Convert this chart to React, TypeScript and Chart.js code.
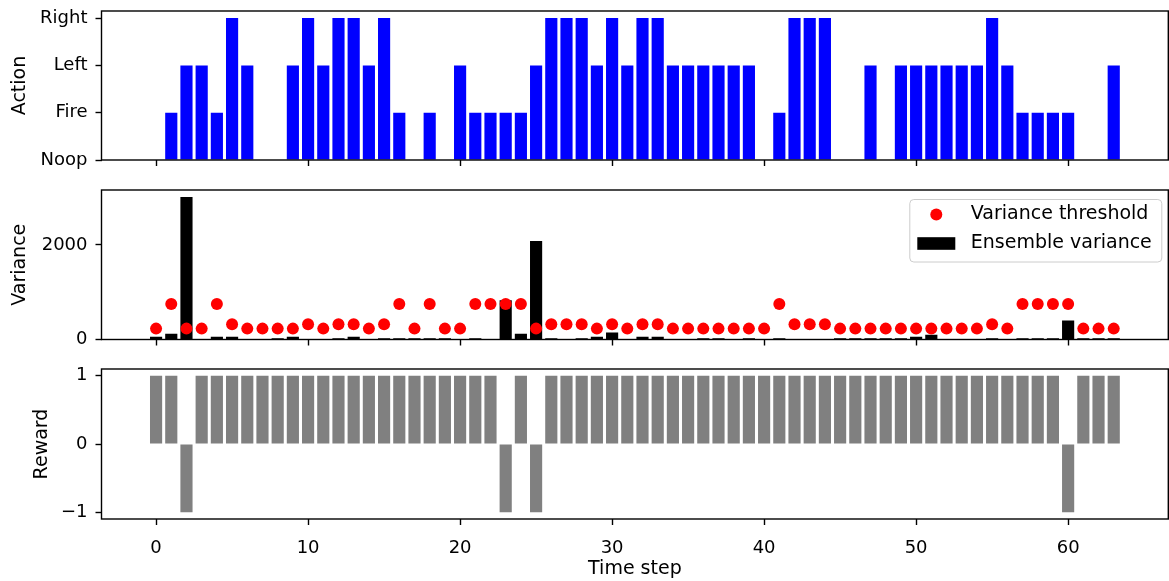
import React, { useEffect, useRef } from 'react';
import { Chart, registerables } from 'chart.js';

Chart.register(...registerables);

// ---------------- data ----------------
const timeSteps = [
  0, 1, 2, 3, 4, 5, 6, 7, 8, 9,
  10, 11, 12, 13, 14, 15, 16, 17, 18, 19,
  20, 21, 22, 23, 24, 25, 26, 27, 28, 29,
  30, 31, 32, 33, 34, 35, 36, 37, 38, 39,
  40, 41, 42, 43, 44, 45, 46, 47, 48, 49,
  50, 51, 52, 53, 54, 55, 56, 57, 58, 59,
  60, 61, 62, 63,
];

const actionLabels = ['Noop', 'Fire', 'Left', 'Right'];

// index into actionLabels
const actions = [
  0, 1, 2, 2, 1, 3, 2, 0, 0, 2,
  3, 2, 3, 3, 2, 3, 1, 0, 1, 0,
  2, 1, 1, 1, 1, 2, 3, 3, 3, 2,
  3, 2, 3, 3, 2, 2, 2, 2, 2, 2,
  0, 1, 3, 3, 3, 0, 0, 2, 0, 2,
  2, 2, 2, 2, 2, 3, 2, 1, 1, 1,
  1, 0, 0, 2,
];

const varianceThreshold = [
  230, 750, 230, 230, 750, 320, 230, 230, 230, 230,
  320, 230, 320, 320, 230, 320, 750, 230, 750, 230,
  230, 750, 750, 750, 750, 230, 320, 320, 320, 230,
  320, 230, 320, 320, 230, 230, 230, 230, 230, 230,
  230, 750, 320, 320, 320, 230, 230, 230, 230, 230,
  230, 230, 230, 230, 230, 320, 230, 750, 750, 750,
  750, 230, 230, 230,
];

const ensembleVariance = [
  60, 120, 3010, 0, 60, 60, 0, 0, 25, 60,
  0, 0, 25, 60, 0, 25, 25, 25, 25, 25,
  0, 25, 0, 830, 120, 2080, 25, 0, 25, 60,
  150, 0, 60, 60, 0, 0, 25, 25, 0, 25,
  0, 25, 0, 0, 0, 25, 25, 25, 25, 25,
  60, 100, 0, 0, 0, 25, 0, 25, 25, 25,
  400, 25, 25, 25,
];

const rewards = [
  1, 1, -1, 1, 1, 1, 1, 1, 1, 1,
  1, 1, 1, 1, 1, 1, 1, 1, 1, 1,
  1, 1, 1, -1, 1, -1, 1, 1, 1, 1,
  1, 1, 1, 1, 1, 1, 1, 1, 1, 1,
  1, 1, 1, 1, 1, 1, 1, 1, 1, 1,
  1, 1, 1, 1, 1, 1, 1, 1, 1, 1,
  -1, 1, 1, 1,
];

const xTickValues = [0, 10, 20, 30, 40, 50, 60];
const actionTickValues = [0, 1, 2, 3];
const varianceTickValues = [0, 2000];
const rewardTickValues = [-1, 0, 1];

const xTitle = 'Time step';
const thresholdLabel = 'Variance threshold';
const varianceLabel = 'Ensemble variance';

// ---------------- layout ----------------
const W = 1169;
const H = 581;
const PLOT_LEFT = 101.5;
const PLOT_RIGHT = 1168.3;
const FONT = 'DejaVu Sans';
const FS = 18;
const TITLE_FS = 19;
const TITLE_LH = TITLE_FS * 1.2;

Chart.defaults.font.family = FONT;
Chart.defaults.font.size = FS;
Chart.defaults.color = '#000';

const barWidthFrac = 0.8;
const xPad = 0.05 * (timeSteps[timeSteps.length - 1] - timeSteps[0] + barWidthFrac);
const X_MIN = timeSteps[0] - barWidthFrac / 2 - xPad;
const X_MAX = timeSteps[timeSteps.length - 1] + barWidthFrac / 2 + xPad;

const zeroPadding = (s: any) => {
  s.paddingTop = 0;
  s.paddingBottom = 0;
  s.paddingLeft = 0;
  s.paddingRight = 0;
};

const framePlugin = {
  id: 'frame',
  afterDatasetsDraw(chart: any) {
    const { ctx, chartArea: a } = chart;
    ctx.save();
    ctx.strokeStyle = '#000';
    ctx.lineWidth = 1.4;
    ctx.strokeRect(a.left, a.top, a.right - a.left, a.bottom - a.top);
    ctx.restore();
  },
};

const legendPlugin = {
  id: 'varLegend',
  afterDraw(chart: any) {
    const { ctx, chartArea: a } = chart;
    const boxW = 252;
    const boxH = 62.5;
    const right = a.right - 6.5;
    const top = a.top + 9.5;
    const left = right - boxW;
    ctx.save();
    ctx.beginPath();
    ctx.roundRect(left, top, boxW, boxH, 4);
    ctx.fillStyle = 'rgba(255,255,255,0.8)';
    ctx.fill();
    ctx.strokeStyle = '#cccccc';
    ctx.lineWidth = 1;
    ctx.stroke();

    const row1 = top + 15;
    const row2 = top + 44;
    const handleLeft = left + 7.5;
    const handleLen = 38;
    // scatter marker
    ctx.beginPath();
    ctx.arc(handleLeft + handleLen / 2, row1, 6, 0, Math.PI * 2);
    ctx.fillStyle = '#ff0000';
    ctx.fill();
    // bar patch
    ctx.fillStyle = '#000000';
    ctx.fillRect(handleLeft, row2 - 6.3, handleLen, 12.6);

    ctx.fillStyle = '#000';
    ctx.font = `${TITLE_FS}px "${FONT}"`;
    ctx.textBaseline = 'middle';
    ctx.textAlign = 'left';
    const textX = left + 61;
    ctx.fillText(thresholdLabel, textX, row1);
    ctx.fillText(varianceLabel, textX, row2);
    ctx.restore();
  },
};

type PanelOpts = {
  top: number;
  bottom: number;
  titleX: number;
  yTitle: string;
  yMin: number;
  yMax: number;
  yTicks: number[];
  yLabel: (v: number) => string;
  showX: boolean;
};

function makeOptions(p: PanelOpts): any {
  const padLeft = p.titleX - TITLE_LH / 2;
  const xHeight = p.showX ? H - p.bottom : 10;
  const padBottom = p.showX ? 0 : H - p.bottom - xHeight;
  return {
    responsive: false,
    animation: false,
    events: [],
    layout: {
      autoPadding: false,
      padding: { left: padLeft, top: p.top, right: W - PLOT_RIGHT, bottom: padBottom },
    },
    plugins: { legend: { display: false }, tooltip: { enabled: false } },
    scales: {
      x: {
        type: 'linear',
        min: X_MIN,
        max: X_MAX,
        offset: false,
        afterFit: (s: any) => {
          s.height = xHeight;
          zeroPadding(s);
        },
        afterBuildTicks: (s: any) => {
          s.ticks = xTickValues.map((v) => ({ value: v }));
        },
        grid: {
          display: true,
          drawOnChartArea: false,
          drawTicks: true,
          tickLength: 6,
          tickWidth: 1.4,
          tickColor: '#000',
          offset: false,
        },
        border: { display: false },
        ticks: {
          display: p.showX,
          padding: 13,
          autoSkip: false,
          maxRotation: 0,
          color: '#000',
          callback: (v: any) => String(v),
        },
        title: {
          display: p.showX,
          text: xTitle,
          color: '#000',
          font: { size: TITLE_FS },
          padding: { top: 0, bottom: 1 },
        },
      },
      y: {
        type: 'linear',
        min: p.yMin,
        max: p.yMax,
        afterFit: (s: any) => {
          s.width = PLOT_LEFT - padLeft;
          zeroPadding(s);
        },
        afterBuildTicks: (s: any) => {
          s.ticks = p.yTicks.map((v) => ({ value: v }));
        },
        grid: {
          display: true,
          drawOnChartArea: false,
          drawTicks: true,
          tickLength: 6,
          tickWidth: 1.4,
          tickColor: '#000',
        },
        border: { display: false },
        ticks: {
          padding: 8,
          autoSkip: false,
          color: '#000',
          callback: (v: any) => p.yLabel(Number(v)),
        },
        title: {
          display: true,
          text: p.yTitle,
          color: '#000',
          font: { size: TITLE_FS },
          padding: { top: 0, bottom: 0 },
        },
      },
    },
  };
}

const fmtSigned = (v: number) => (v < 0 ? '\u2212' + Math.abs(v) : String(v));

function fitArea(chart: any, p: { top: number; bottom: number }) {
  const a = chart.chartArea;
  const pad = chart.options.layout.padding;
  const dl = PLOT_LEFT - a.left;
  const dr = a.right - PLOT_RIGHT;
  const dt = p.top - a.top;
  const db = a.bottom - p.bottom;
  if (Math.abs(dl) + Math.abs(dr) + Math.abs(dt) + Math.abs(db) > 0.2) {
    pad.left += dl;
    pad.right += dr;
    pad.top += dt;
    pad.bottom += db;
    chart.update();
  }
}

export default function App() {
  const ref1 = useRef<HTMLCanvasElement>(null);
  const ref2 = useRef<HTMLCanvasElement>(null);
  const ref3 = useRef<HTMLCanvasElement>(null);

  useEffect(() => {
    const actionMax = Math.max(...actions) * 1.05;
    const varMax = Math.max(...ensembleVariance, ...varianceThreshold) * 1.05;
    const rewMin = Math.min(...rewards);
    const rewMax = Math.max(...rewards);
    const rewPad = 0.05 * (rewMax - rewMin);

    const p1 = { top: 11, bottom: 160 };
    const p2 = { top: 190, bottom: 339.5 };
    const p3 = { top: 369, bottom: 519 };

    const c1 = new Chart(ref1.current!, {
      type: 'bar',
      data: {
        datasets: [
          {
            type: 'bar',
            label: 'Action',
            data: timeSteps.map((t, i) => ({ x: t, y: actions[i] })),
            backgroundColor: '#0000ff',
            borderWidth: 0,
            barPercentage: 1,
            categoryPercentage: barWidthFrac,
          } as any,
        ],
      },
      options: makeOptions({
        ...p1,
        titleX: 20,
        yTitle: 'Action',
        yMin: 0,
        yMax: actionMax,
        yTicks: actionTickValues,
        yLabel: (v) => actionLabels[v] ?? '',
        showX: false,
      }),
      plugins: [framePlugin],
    });

    const c2 = new Chart(ref2.current!, {
      type: 'bar',
      data: {
        datasets: [
          {
            type: 'scatter',
            label: thresholdLabel,
            data: timeSteps.map((t, i) => ({ x: t, y: varianceThreshold[i] })),
            backgroundColor: '#ff0000',
            borderWidth: 0,
            pointRadius: 6,
            showLine: false,
            order: 0,
          } as any,
          {
            type: 'bar',
            label: varianceLabel,
            data: timeSteps.map((t, i) => ({ x: t, y: ensembleVariance[i] })),
            backgroundColor: '#000000',
            borderWidth: 0,
            barPercentage: 1,
            categoryPercentage: barWidthFrac,
            order: 1,
          } as any,
        ],
      },
      options: makeOptions({
        ...p2,
        titleX: 20,
        yTitle: 'Variance',
        yMin: 0,
        yMax: varMax,
        yTicks: varianceTickValues,
        yLabel: (v) => String(v),
        showX: false,
      }),
      plugins: [framePlugin, legendPlugin],
    });

    const c3 = new Chart(ref3.current!, {
      type: 'bar',
      data: {
        datasets: [
          {
            type: 'bar',
            label: 'Reward',
            data: timeSteps.map((t, i) => ({ x: t, y: rewards[i] })),
            backgroundColor: '#808080',
            borderWidth: 0,
            barPercentage: 1,
            categoryPercentage: barWidthFrac,
          } as any,
        ],
      },
      options: makeOptions({
        ...p3,
        titleX: 42,
        yTitle: 'Reward',
        yMin: rewMin - rewPad,
        yMax: rewMax + rewPad,
        yTicks: rewardTickValues,
        yLabel: fmtSigned,
        showX: true,
      }),
      plugins: [framePlugin],
    });

    fitArea(c1, p1);
    fitArea(c2, p2);
    fitArea(c3, p3);

    return () => {
      c1.destroy();
      c2.destroy();
      c3.destroy();
    };
  }, []);

  const canvasStyle: React.CSSProperties = {
    position: 'absolute',
    left: 0,
    top: 0,
    width: W,
    height: H,
  };

  return (
    <div style={{ position: 'fixed', left: 0, top: 0, width: W, height: H, background: '#fff' }}>
      <canvas ref={ref1} width={W} height={H} style={canvasStyle} />
      <canvas ref={ref2} width={W} height={H} style={canvasStyle} />
      <canvas ref={ref3} width={W} height={H} style={canvasStyle} />
    </div>
  );
}
